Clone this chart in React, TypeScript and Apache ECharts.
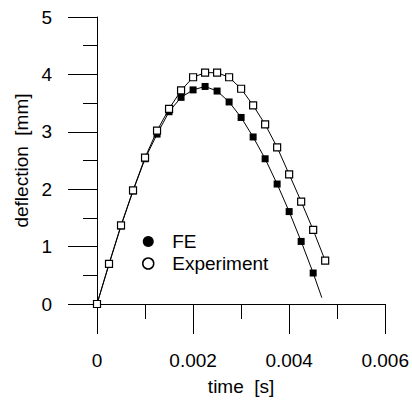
import React, { useEffect, useRef } from "react";
import * as echarts from "echarts";

const times = [
  0, 0.00025, 0.0005, 0.00075, 0.001, 0.00125, 0.0015, 0.00175, 0.002, 0.00225,
  0.0025, 0.00275, 0.003, 0.00325, 0.0035, 0.00375, 0.004, 0.00425, 0.0045, 0.00475,
];
const feValues = [
  0, 0.69, 1.36, 1.97, 2.53, 2.96, 3.35, 3.6, 3.73, 3.79,
  3.71, 3.52, 3.25, 2.91, 2.53, 2.09, 1.61, 1.09, 0.54,
];
const feCurveEnd = [0.00468, 0.11];
const expValues = [
  0, 0.7, 1.37, 1.98, 2.55, 3.02, 3.4, 3.72, 3.95, 4.03,
  4.03, 3.95, 3.75, 3.46, 3.13, 2.73, 2.26, 1.785, 1.29, 0.755,
];
const xTicks = { min: 0, max: 0.006, interval: 0.002 };
const yTicks = { min: 0, max: 5, interval: 1 };
const seriesNames = ["FE", "Experiment"];
const axisNames = { x: "time  [s]", y: "deflection  [mm]" };

const FONT = "'Liberation Sans', Arial, sans-serif";
const FS = 19;

export default function App() {
  const ref = useRef<HTMLDivElement>(null);
  useEffect(() => {
    document.body.style.margin = "0";
    if (!ref.current) return;
    const chart = echarts.init(ref.current, undefined, { renderer: "svg" });
    const feData: any[] = feValues.map((v, i) => [times[i], v]);
    feData.push({ value: feCurveEnd, symbol: "none" });
    const expData = expValues.map((v, i) => [times[i], v]);
    const axisCommon = {
      axisLine: { show: true, onZero: false, lineStyle: { color: "#000", width: 1 } },
      splitLine: { show: false },
      minorSplitLine: { show: false },
      axisLabel: { color: "#000", fontFamily: FONT, fontSize: FS },
      nameTextStyle: { color: "#000", fontFamily: FONT, fontSize: FS },
      nameLocation: "middle" as const,
    };
    chart.setOption({
      animation: false,
      backgroundColor: "#fff",
      grid: { left: 97, right: 25, top: 17, bottom: 93 },
      legend: {
        orient: "vertical",
        left: 137,
        top: 227,
        itemWidth: 38,
        itemHeight: 11,
        itemGap: 3,
        textStyle: { color: "#000", fontFamily: FONT, fontSize: FS },
        data: [
          { name: seriesNames[0], icon: "circle", itemStyle: { color: "#000", borderWidth: 0 } },
          {
            name: seriesNames[1],
            icon: "circle",
            itemStyle: { color: "#fff", borderColor: "#000", borderWidth: 1.5 },
          },
        ],
      },
      xAxis: {
        type: "value",
        ...axisCommon,
        min: xTicks.min,
        max: xTicks.max,
        interval: xTicks.interval,
        name: axisNames.x,
        nameGap: 73,
        axisTick: { show: true, length: 30, lineStyle: { color: "#000" } },
        minorTick: { show: true, splitNumber: 2, length: 15, lineStyle: { color: "#000" } },
        axisLabel: { ...axisCommon.axisLabel, margin: 47 },
      },
      yAxis: {
        type: "value",
        ...axisCommon,
        min: yTicks.min,
        max: yTicks.max,
        interval: yTicks.interval,
        name: axisNames.y,
        nameGap: 54,
        axisTick: { show: true, length: 29, lineStyle: { color: "#000" } },
        minorTick: { show: true, splitNumber: 2, length: 14, lineStyle: { color: "#000" } },
        axisLabel: { ...axisCommon.axisLabel, margin: 45 },
      },
      series: [
        {
          name: seriesNames[0],
          type: "line",
          data: feData,
          symbol: "rect",
          symbolSize: 7,
          z: 2,
          itemStyle: { color: "#000" },
          lineStyle: { color: "#000", width: 1 },
        },
        {
          name: seriesNames[1],
          type: "line",
          data: expData,
          symbol: "rect",
          symbolSize: 7,
          z: 3,
          itemStyle: { color: "#fff", borderColor: "#000", borderWidth: 1.2 },
          lineStyle: { color: "#000", width: 1 },
        },
      ],
    });
    return () => chart.dispose();
  }, []);
  return <div ref={ref} style={{ width: 412, height: 401 }} />;
}
